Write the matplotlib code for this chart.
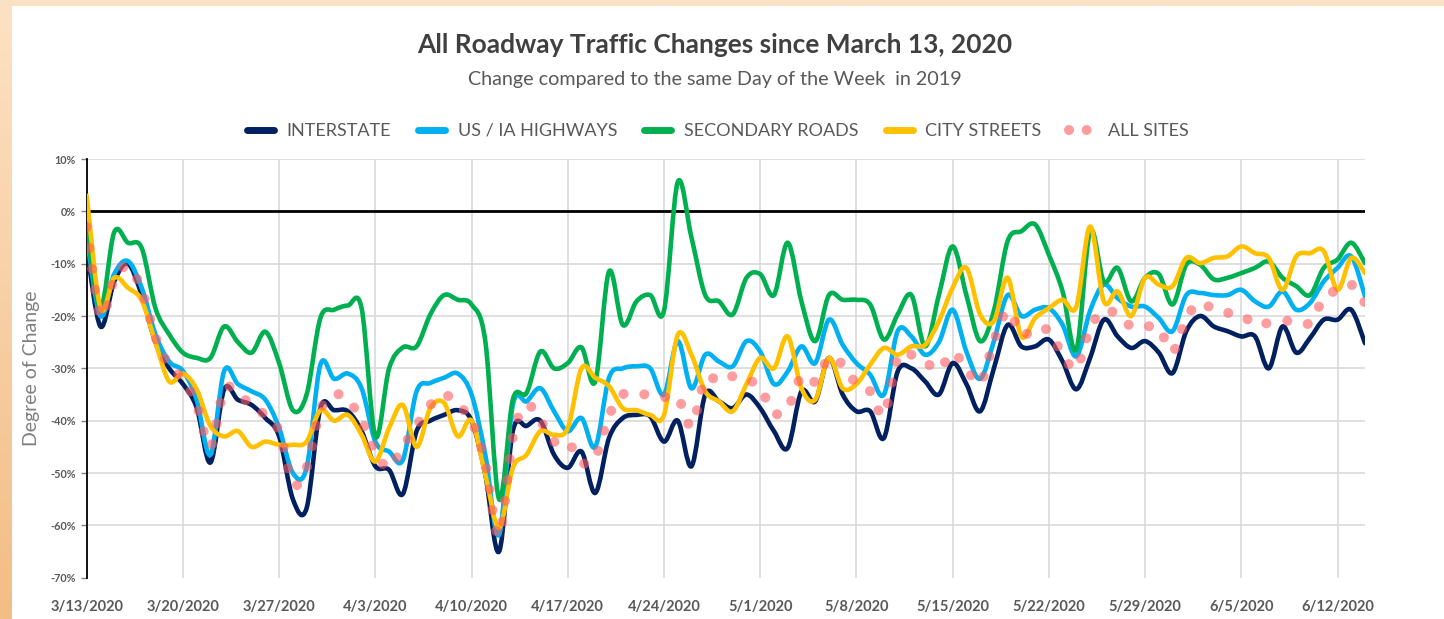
import numpy as np
import matplotlib
matplotlib.use("Agg")
import matplotlib.pyplot as plt
import matplotlib.dates as mdates
from matplotlib.path import Path
from matplotlib.patches import PathPatch, Rectangle
from matplotlib.lines import Line2D
from matplotlib.colors import LinearSegmentedColormap

plt.rcParams["font.family"] = ["Lato", "DejaVu Sans"]

# daily values, % change vs same weekday 2019, starting 3/13/2020
START = "2020-03-13"
interstate = [
    -7, -22, -13.4, -10, -16, -25, -30,
    -33, -37.5, -48, -34, -36, -37, -39.5,
    -43, -55, -56.7, -37.6, -38, -38.2, -42,
    -48.7, -49.4, -54, -42, -40, -38.9, -38,
    -40, -50.3, -65, -42, -41, -40, -46.5,
    -49, -45.9, -53.8, -43.3, -39.5, -38.9, -39.2,
    -44, -40, -48.7, -35, -36.3, -37.6, -35,
    -37.6, -42, -45.2, -34.4, -36.3, -28, -35,
    -38.2, -38.2, -43.3, -30.6, -30, -32.5, -35,
    -29, -33, -38.2, -30, -21.7, -25.8, -25.8,
    -24.5, -28.7, -34, -28, -20.7, -23.9, -26.1,
    -24.8, -27, -30.9, -22.9, -20, -22, -22.9,
    -23.9, -23.9, -30, -22, -27, -24.2, -20.7,
    -20.7, -18.8, -25.2,
]
us_ia = [
    -5, -20, -12, -9.5, -14.6, -23.5, -28.7,
    -30.5, -36, -46.5, -30.5, -33, -34.4, -36,
    -41.4, -50, -49, -29.3, -32, -31, -33.8,
    -44, -45.9, -47.5, -34.4, -32.8, -31.8, -31,
    -35, -46.5, -61.8, -37, -36.3, -33.8, -38.2,
    -42, -39.5, -45, -31.8, -30, -29.6, -30,
    -35, -24.8, -33.8, -27.4, -28.7, -29.6, -24.8,
    -26.8, -33, -30.6, -25.8, -29, -20.7, -25.5,
    -29, -31.2, -35, -22.9, -23.9, -27.4, -25,
    -18.8, -26.8, -32, -24.8, -16, -20, -18.8,
    -18.5, -21.7, -27.7, -19, -14, -16.6, -18.2,
    -18.2, -20.4, -22.9, -16, -15.6, -16, -16,
    -15, -17.2, -18.2, -15.3, -18.8, -17.5, -13.4,
    -10.8, -8.6, -16.2,
]
secondary = [
    -3, -18.5, -4, -6, -7, -18.5, -23.5,
    -27, -28, -28, -22, -25, -27, -23,
    -29, -38, -35, -20.4, -18.8, -18, -18.5,
    -43, -30, -26, -25.8, -19.7, -16, -16.9,
    -17.8, -24.8, -55, -36, -34.7, -26.8, -30,
    -29, -26, -32.5, -11.5, -21.7, -17.2, -16,
    -19, 5.6, -5, -16, -17.2, -19.7, -12.7,
    -12, -16, -6, -17.2, -24.8, -16, -16.9,
    -16.9, -17.8, -24.5, -19.7, -16, -25.8, -16,
    -6.7, -16, -24.8, -19, -5.7, -3.8, -2.5,
    -8.3, -15.3, -26.4, -3.8, -13.4, -10.8, -17.2,
    -12.7, -12, -17.8, -10.2, -10.2, -13, -12.7,
    -11.8, -10.8, -9.6, -12.7, -14.3, -16, -10.8,
    -9.2, -6, -9.9,
]
city = [
    3, -18.5, -12.7, -14.6, -17, -25, -32.5,
    -31, -34, -41, -43, -42, -45, -44,
    -44.6, -44.6, -44, -38, -40, -38.9, -42.7,
    -47.8, -41.4, -37, -45, -37.6, -36.6, -43,
    -40, -50.3, -60.5, -49, -46.5, -42, -42.7,
    -41.4, -30, -31.8, -33.4, -37.6, -38, -38.9,
    -38.9, -23.6, -27.4, -34.4, -36.3, -38.2, -33,
    -28, -30, -23.9, -33.8, -36, -28, -33.8,
    -33, -29.3, -26.1, -27.4, -25.8, -25.5, -21,
    -14.6, -10.8, -19.7, -21, -12.7, -23.9, -20.4,
    -18.5, -16.9, -18.2, -2.9, -17.2, -15.3, -20,
    -12.7, -14, -14.3, -8.9, -9.9, -8.9, -8.6,
    -6.7, -8, -8.9, -15, -8.6, -8, -7.6,
    -15, -8.9, -11.8,
]
all_sites = [
    -3, -20, -13, -10.5, -15, -24, -29.5,
    -32, -37, -45, -34, -35, -37, -39,
    -42, -52, -49, -38, -35, -36, -40,
    -46, -49, -45, -41, -37, -35, -37,
    -40, -48, -62, -43, -37, -40, -44,
    -44, -48, -47, -39, -35, -35, -35,
    -35.5, -35.5, -41, -32, -32.5, -31.5, -32,
    -33.8, -38.5, -37.6, -31.5, -32.5, -28, -29.3,
    -33, -34.4, -38.9, -28, -27.4, -28.7, -30.3,
    -27, -30, -32.8, -24.8, -19, -23.6, -22.3,
    -22.9, -27.4, -30, -22.3, -19, -19.7, -22,
    -22, -22.3, -26.8, -20.4, -17.5, -18.8, -19.4,
    -19.7, -21.7, -21.3, -21, -20.9, -21.3, -16.6,
    -15, -14, -17.5,
]
labels = ["INTERSTATE", "US / IA HIGHWAYS", "SECONDARY ROADS", "CITY STREETS", "ALL SITES"]
colors = ["#002060", "#00B0F0", "#00B050", "#FFC000", "#FF5A5F"]
y_ticks = [-70, -60, -50, -40, -30, -20, -10, 0, 10]

W, H = 1444, 619


def smooth_path(xs, ys):
    # excel-style smoothed line: cubic bezier through each point
    pts = np.column_stack([xs, ys])
    n = len(pts)
    verts = [pts[0]]
    codes = [Path.MOVETO]
    for i in range(n - 1):
        p0 = pts[max(i - 1, 0)]
        p1 = pts[i]
        p2 = pts[i + 1]
        p3 = pts[min(i + 2, n - 1)]
        verts += [p1 + (p2 - p0) / 6, p2 - (p3 - p1) / 6, p2]
        codes += [Path.CURVE4] * 3
    return Path(verts, codes)


fig = plt.figure(figsize=(W / 100, H / 100), dpi=100)

# peach frame with white panel
bg = fig.add_axes([0, 0, 1, 1], zorder=-10)
bg.axis("off")
cmap = LinearSegmentedColormap.from_list("peach", ["#fce2c4", "#f3bd85"])
bg.imshow(np.linspace(0, 1, 256).reshape(-1, 1), aspect="auto", cmap=cmap,
          extent=[0, 1, 0, 1], origin="upper")
bg.add_patch(Rectangle((12 / W, 0), 1, 1 - 6 / H, facecolor="white", edgecolor="none"))
bg.set_xlim(0, 1)
bg.set_ylim(0, 1)

ax = fig.add_axes([86.7 / W, 1 - 577.7 / H, (1365 - 86.7) / W, (577.7 - 159) / H])
ax.set_facecolor("white")

dates = np.arange(np.datetime64(START), np.datetime64(START) + len(interstate))
x = mdates.date2num(dates)

series = [interstate, us_ia, secondary, city]
for i, vals in enumerate(series):
    ax.add_patch(PathPatch(smooth_path(x, vals), fill=False, edgecolor=colors[i],
                           lw=3.3, capstyle="round", joinstyle="round", zorder=3 + i))
ax.add_patch(PathPatch(smooth_path(x, all_sites), fill=False, edgecolor=colors[4],
                       alpha=0.6, lw=7.2, linestyle=(0, (0.01, 2.1)),
                       capstyle="round", zorder=8))

ax.axhline(0, color="black", lw=2.0, zorder=2)

ax.set_xlim(x[0], x[-1])
ax.set_ylim(-70, 10)
ax.set_yticks(y_ticks)
ax.set_yticklabels([f"{v}%" for v in y_ticks])
xt = x[::7]
ax.set_xticks(xt)
ax.set_xticklabels([f"{d.astype(object).month}/{d.astype(object).day}/2020" for d in dates[::7]])

ax.grid(True, color="#d9d9d9", lw=1.2)
ax.set_axisbelow(True)
ax.yaxis.get_gridlines()[0].set_visible(False)
for s in ["top", "right", "bottom"]:
    ax.spines[s].set_visible(False)
ax.spines["left"].set_color("black")
ax.spines["left"].set_linewidth(1.3)
ax.tick_params(axis="x", length=0, pad=16, labelsize=10.5, labelcolor="#595959")
ax.tick_params(axis="y", length=4, width=1, color="#808080", pad=4,
               labelsize=7.8, labelcolor="#595959")
for t in ax.get_xticklabels() + ax.get_yticklabels():
    t.set_fontweight("bold")

fig.text(32 / W, 1 - 368 / H, "Degree of Change", rotation=90, ha="center", va="center",
         fontsize=14, color="#7f7f7f")
fig.text(715 / W, 1 - 45 / H, "All Roadway Traffic Changes since March 13, 2020",
         ha="center", va="center", fontsize=19, fontweight="bold", color="#404040")
fig.text(715 / W, 1 - 80 / H, "Change compared to the same Day of the Week  in 2019",
         ha="center", va="center", fontsize=14.2, color="#595959")

handles = [Line2D([], [], color=c, lw=5, solid_capstyle="round") for c in colors[:4]]
handles.append(Line2D([], [], color=colors[4], alpha=0.6, lw=7.2,
                      linestyle=(0, (0.01, 1.75)), dash_capstyle="round"))
fig.legend(handles, labels, loc="center", bbox_to_anchor=(718 / W, 1 - 131 / H), ncol=5,
           frameon=False, fontsize=13, handlelength=1.5, handletextpad=0.7,
           columnspacing=1.5, labelcolor="#595959")

fig.savefig("out.png", dpi=100)
